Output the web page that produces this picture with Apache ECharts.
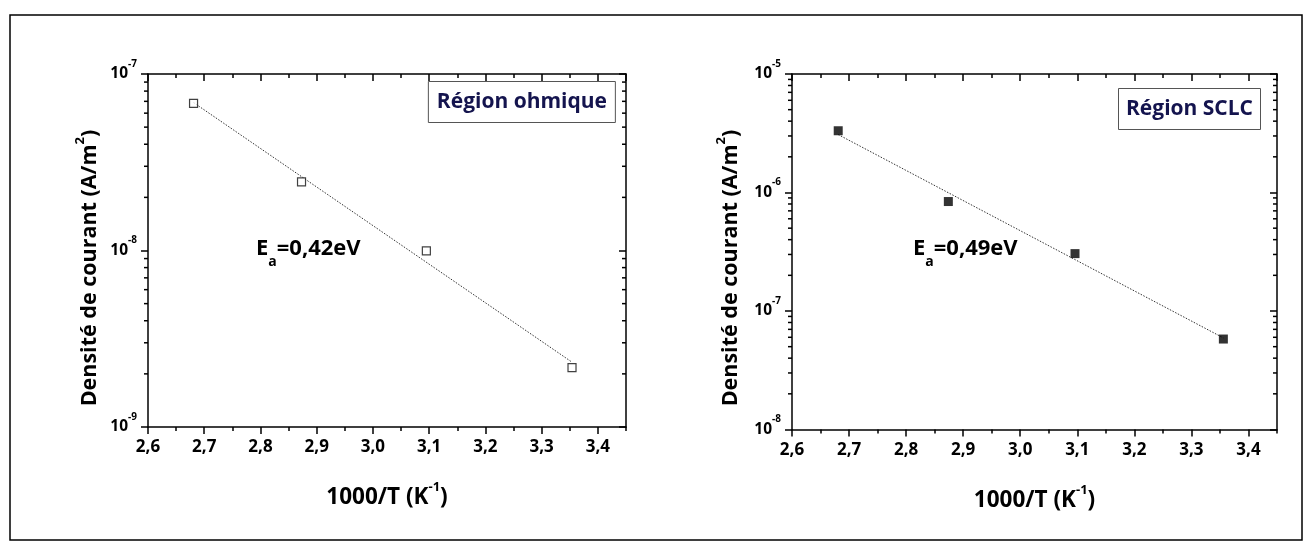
<!DOCTYPE html>
<html><head><meta charset="utf-8">
<script src="https://cdn.jsdelivr.net/npm/echarts@6/dist/echarts.min.js"></script>
<style>html,body{margin:0;padding:0;background:#fff}#c{width:1312px;height:548px}</style>
</head><body><div id="c"></div><script>
// ---- data ----
const invT_ohmic = [2.681, 2.873, 3.095, 3.354];
const J_ohmic = [6.82e-8, 2.45e-8, 9.95e-9, 2.17e-9];
const fitX_ohmic = [2.681, 3.354];
const fitJ_ohmic = [6.89e-8, 2.33e-9];

const invT_sclc = [2.681, 2.874, 3.096, 3.356];
const J_sclc = [3.32e-6, 8.39e-7, 3.05e-7, 5.8e-8];
const fitX_sclc = [2.681, 3.356];
const fitJ_sclc = [3.08e-6, 5.93e-8];

const xTickLabels = ['2,6','2,7','2,8','2,9','3,0','3,1','3,2','3,3','3,4'];
const logMinorMult = [2,3,4,5,6,7,8,9];
const yRangeOhmic = [1e-9, 1e-7];
const yRangeSclc = [1e-8, 1e-5];
const xRange = [2.6, 3.45];

const boxTitles = ['Région ohmique', 'Région SCLC'];
const eaTexts = ['=0,42eV', '=0,49eV'];
const yTitle = 'Densité de courant (A/m';
const xTitle = '1000/T (K';

const FONT = '"Open Sans", "DejaVu Sans", sans-serif';

function minorValues(range) {
  const out = [];
  const e0 = Math.round(Math.log10(range[0])), e1 = Math.round(Math.log10(range[1]));
  for (let e = e0; e < e1; e++) logMinorMult.forEach(m => out.push([xRange[0], m * Math.pow(10, e)]));
  return out;
}

function xAxes(g) {
  const base = {gridIndex: g, type: 'value', min: xRange[0], max: xRange[1], splitLine: {show: false}};
  return [
    Object.assign({}, base, {
      position: 'bottom', interval: 0.1,
      axisLine: {show: true, lineStyle: {color: '#000', width: 1.5}},
      axisTick: {show: true, inside: false, length: 7, lineStyle: {color: '#000', width: 1.5}},
      axisLabel: {show: true, margin: 12, showMaxLabel: false, color: '#000', fontFamily: FONT, fontWeight: 'bold', fontSize: 17,
        formatter: v => { const i = Math.round((v - xRange[0]) / 0.1); return xTickLabels[i] || ''; }},
      name: '{t|' + xTitle + '}{s|-1}{t|)}', nameLocation: 'middle', nameGap: 54,
      nameTextStyle: {rich: {
        t: {fontFamily: FONT, fontWeight: 'bold', fontSize: 22.5, color: '#000', lineHeight: 34},
        s: {fontFamily: FONT, fontWeight: 'bold', fontSize: 13, color: '#000', lineHeight: 14, verticalAlign: 'top'}
      }}
    }),
    Object.assign({}, base, {
      position: 'bottom', interval: 0.05,
      axisLine: {show: false}, axisLabel: {show: false},
      axisTick: {show: true, inside: false, length: 4, lineStyle: {color: '#000', width: 1.5}}
    }),
    Object.assign({}, base, {
      position: 'top', interval: 0.1,
      axisLine: {show: true, lineStyle: {color: '#000', width: 1.5}}, axisLabel: {show: false},
      axisTick: {show: true, inside: true, length: 7, lineStyle: {color: '#000', width: 1.5}}
    }),
    Object.assign({}, base, {
      position: 'top', interval: 0.05,
      axisLine: {show: false}, axisLabel: {show: false},
      axisTick: {show: true, inside: true, length: 4, lineStyle: {color: '#000', width: 1.5}}
    })
  ];
}

function yAxes(g, range) {
  const base = {gridIndex: g, type: 'log', logBase: 10, min: range[0], max: range[1], splitLine: {show: false}, minorTick: {show: false}};
  return [
    Object.assign({}, base, {
      position: 'left',
      axisLine: {show: true, lineStyle: {color: '#000', width: 1.5}},
      axisTick: {show: true, inside: false, length: 7, lineStyle: {color: '#000', width: 1.5}},
      axisLabel: {show: true, margin: 11, formatter: v => '{b|10}{s|' + Math.round(Math.log10(v)) + '}',
        rich: {
          b: {fontFamily: FONT, fontWeight: 'bold', fontSize: 15.5, color: '#000', lineHeight: 30},
          s: {fontFamily: FONT, fontWeight: 'bold', fontSize: 10, color: '#000', lineHeight: 10, verticalAlign: 'top'}
        }}
    }),
    Object.assign({}, base, {
      position: 'right',
      axisLine: {show: true, lineStyle: {color: '#000', width: 1.5}}, axisLabel: {show: false},
      axisTick: {show: true, inside: true, length: 7, lineStyle: {color: '#000', width: 1.5}}
    })
  ];
}

function minorTickSeries(g, range) {
  return {
    type: 'custom', xAxisIndex: g * 4, yAxisIndex: g * 2, clip: false, silent: true, z: 10,
    data: minorValues(range),
    renderItem: (params, api) => {
      const v = api.value(1);
      const pL = api.coord([xRange[0], v]);
      const pR = api.coord([xRange[1], v]);
      const st = {stroke: '#000', lineWidth: 1.5};
      return {type: 'group', children: [
        {type: 'line', shape: {x1: pL[0] - 4, y1: pL[1], x2: pL[0], y2: pL[1]}, style: st},
        {type: 'line', shape: {x1: pR[0] - 4, y1: pR[1], x2: pR[0], y2: pR[1]}, style: st}
      ]};
    }
  };
}

function pts(xs, ys) { return xs.map((x, i) => [x, ys[i]]); }

const boxTitleStyle = {fontFamily: FONT, fontWeight: 'bold', fontSize: 21, color: '#14144e', lineHeight: 24};
const eaRich = {
  e: {fontFamily: FONT, fontWeight: 'bold', fontSize: 22, color: '#000', lineHeight: 41},
  a: {fontFamily: FONT, fontWeight: 'bold', fontSize: 14, color: '#000', lineHeight: 12, verticalAlign: 'bottom'}
};
const yTitleRich = {
  t: {fontFamily: FONT, fontWeight: 'bold', fontSize: 21.5, color: '#000', lineHeight: 32},
  s: {fontFamily: FONT, fontWeight: 'bold', fontSize: 13, color: '#000', lineHeight: 14, verticalAlign: 'top'}
};
const yTitleText = '{t|' + yTitle + '}{s|2}{t|)}';

const option = {
  backgroundColor: '#fff',
  animation: false,
  grid: [
    {left: 148, top: 74, width: 478, height: 353, containLabel: false},
    {left: 792, top: 74, width: 485, height: 355.5, containLabel: false}
  ],
  title: [
    {text: boxTitles[0], right: 696, top: 81, padding: [9, 9], borderColor: '#555', borderWidth: 1, backgroundColor: '#fff', textStyle: boxTitleStyle},
    {text: boxTitles[1], right: 51, top: 88, padding: [9, 8], borderColor: '#555', borderWidth: 1, backgroundColor: '#fff', textStyle: boxTitleStyle}
  ],
  xAxis: xAxes(0).concat(xAxes(1)),
  yAxis: yAxes(0, yRangeOhmic).concat(yAxes(1, yRangeSclc)),
  graphic: [
    {type: 'rect', shape: {x: 10, y: 15, width: 1292, height: 525}, style: {fill: 'none', stroke: '#000', lineWidth: 1.5}, silent: true},
    {type: 'text', x: 90, y: 268, rotation: Math.PI / 2, style: {text: yTitleText, rich: yTitleRich, align: 'center', verticalAlign: 'middle'}},
    {type: 'text', x: 731, y: 268, rotation: Math.PI / 2, style: {text: yTitleText, rich: yTitleRich, align: 'center', verticalAlign: 'middle'}},
    {type: 'text', x: 256, y: 249, style: {text: '{e|E}{a|a}{e|' + eaTexts[0] + '}', rich: eaRich, align: 'left', verticalAlign: 'middle'}},
    {type: 'text', x: 913, y: 249, style: {text: '{e|E}{a|a}{e|' + eaTexts[1] + '}', rich: eaRich, align: 'left', verticalAlign: 'middle'}}
  ],
  series: [
    {type: 'line', xAxisIndex: 0, yAxisIndex: 0, data: pts(fitX_ohmic, fitJ_ohmic), showSymbol: false, symbol: 'none',
      lineStyle: {color: '#333', width: 1, type: [1.5, 1.5]}, z: 2},
    {type: 'scatter', xAxisIndex: 0, yAxisIndex: 0, data: pts(invT_ohmic, J_ohmic), symbol: 'rect', symbolSize: 8,
      itemStyle: {color: '#fff', borderColor: '#111', borderWidth: 1.2}, z: 3},
    minorTickSeries(0, yRangeOhmic),
    {type: 'line', xAxisIndex: 4, yAxisIndex: 2, data: pts(fitX_sclc, fitJ_sclc), showSymbol: false, symbol: 'none',
      lineStyle: {color: '#333', width: 1, type: [1.5, 1.5]}, z: 2},
    {type: 'scatter', xAxisIndex: 4, yAxisIndex: 2, data: pts(invT_sclc, J_sclc), symbol: 'rect', symbolSize: 9,
      itemStyle: {color: '#000'}, z: 3},
    minorTickSeries(1, yRangeSclc)
  ]
};
echarts.init(document.getElementById('c'), null, {renderer: 'canvas'}).setOption(option);
</script></body></html>
